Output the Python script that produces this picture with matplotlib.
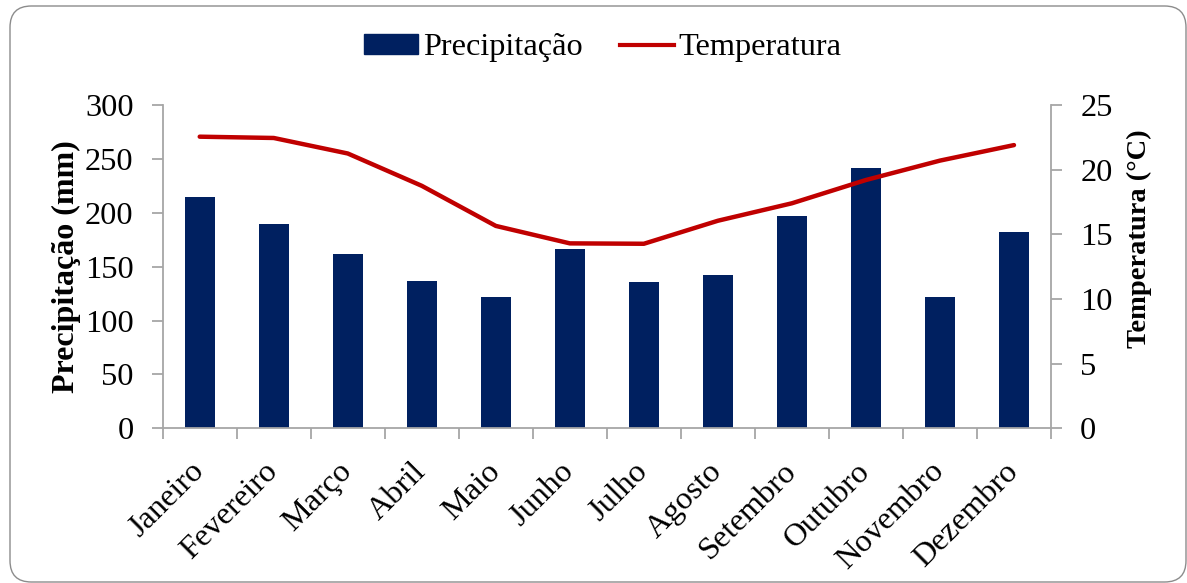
import matplotlib
matplotlib.use("Agg")
import matplotlib.pyplot as plt
import numpy as np
from matplotlib.patches import FancyBboxPatch, Patch
from matplotlib.lines import Line2D

months = ["Janeiro", "Fevereiro", "Março", "Abril", "Maio", "Junho",
          "Julho", "Agosto", "Setembro", "Outubro", "Novembro", "Dezembro"]
precip = [215, 190, 162, 137, 122, 166, 136, 142, 197, 242, 122, 182]
temp = [22.55, 22.45, 21.25, 18.75, 15.65, 14.3, 14.27, 16.05, 17.4, 19.2, 20.7, 21.9]
y_left_ticks = [0, 50, 100, 150, 200, 250, 300]
y_right_ticks = [0, 5, 10, 15, 20, 25]

plt.rcParams['font.family'] = ['Liberation Serif', 'DejaVu Serif']
BAR = '#002060'
LINE = '#C00000'
AX = '#A6A6A6'
FS = 23.3

fig = plt.figure(figsize=(11.87, 5.83), dpi=100)
frame = FancyBboxPatch((10/1187, 1-582/583), (1186-10)/1187, (582-6)/583,
                       boxstyle="round,pad=0,rounding_size=0.018",
                       transform=fig.transFigure, facecolor='white',
                       edgecolor='#8C8C8C', linewidth=1.0, mutation_aspect=1187/583,
                       zorder=-10)
fig.patches.append(frame)

ax = fig.add_axes([162.7/1187, 1-428.3/583, (1051-162.7)/1187, (428.3-105)/583])
ax.patch.set_alpha(0)
x = np.arange(len(months))
ax.bar(x, precip, width=0.4, color=BAR, zorder=2)
ax.set_xlim(-0.5, len(months)-0.5)
ax.set_ylim(0, 300)
ax.set_yticks(y_left_ticks)
ax.set_xticks(np.arange(-0.5, len(months), 1.0))
ax.set_xticklabels([])
ax.set_xticks(x, minor=True)
ax.set_xticklabels(months, minor=True, rotation=45, ha='right', va='center',
                   rotation_mode='anchor', fontsize=FS)
ax.tick_params(axis='x', which='major', length=8, color=AX, width=1.3, direction='out')
ax.tick_params(axis='x', which='minor', length=0, pad=28)
ax.tick_params(axis='y', length=8, color=AX, width=1.3, labelsize=FS, pad=13)
for s in ['top', 'right']:
    ax.spines[s].set_visible(False)
for s in ['left', 'bottom']:
    ax.spines[s].set_color(AX)
    ax.spines[s].set_linewidth(1.3)
ax.set_ylabel("Precipitação (mm)", fontsize=23, fontweight='bold', labelpad=2.5)

ax2 = ax.twinx()
ax2.plot(x, temp, color=LINE, linewidth=3.2, solid_capstyle='round', zorder=3)
ax2.set_ylim(0, 25)
ax2.set_yticks(y_right_ticks)
ax2.tick_params(axis='y', length=8, color=AX, width=1.3, labelsize=FS, pad=13)
for s in ['top', 'left', 'bottom']:
    ax2.spines[s].set_visible(False)
ax2.spines['right'].set_color(AX)
ax2.spines['right'].set_linewidth(1.3)
ax2.set_ylabel("Temperatura (°C)", fontsize=20.5, fontweight='bold', labelpad=10, y=0.585)

handles = [Patch(facecolor=BAR, edgecolor=BAR),
           Line2D([0], [0], color=LINE, linewidth=3)]
fig.legend(handles, ["Precipitação", "Temperatura"], loc='center',
           bbox_to_anchor=(603/1187, 1-48/583), ncol=2, frameon=False,
           fontsize=FS, handlelength=1.65, handleheight=0.55, handletextpad=0.15,
           columnspacing=1.17)

fig.savefig("out.png", dpi=100)
